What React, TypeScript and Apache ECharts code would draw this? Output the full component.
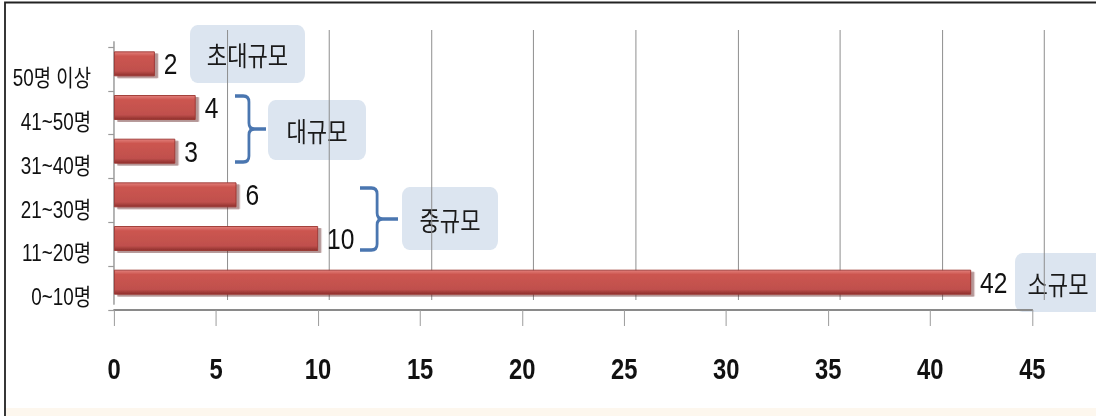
import React, { useEffect, useRef } from "react";
import * as echarts from "echarts";

// ---- data ----
const categories = ["0~10명", "11~20명", "21~30명", "31~40명", "41~50명", "50명 이상"];
const values = [42, 10, 6, 3, 4, 2];
const axisMin = 0;
const axisMax = 45;
const axisInterval = 5;
const groupLabels = ["초대규모", "대규모", "중규모", "소규모"];

// horizontal squeeze of the whole drawing (the reference text is condensed)
const S = 0.82;
const W = 1096;
const H = 416;
const sx = (v: number) => v / S;

const LAT = "'Liberation Sans', 'Noto Sans CJK KR', sans-serif";
const KR = "'Noto Sans CJK KR', sans-serif";

echarts.graphic.registerShape(
  "brace",
  echarts.graphic.extendShape({
    shape: { x: 0, y: 0, w: 30, h: 66 },
    buildPath(ctx: any, s: any) {
      const x0 = s.x, y0 = s.y, w = s.w, h = s.h;
      const vx = x0 + w * 0.45;
      const ym = y0 + h / 2;
      const rx = 7, ry = 6;
      ctx.moveTo(x0, y0);
      ctx.lineTo(vx - rx, y0);
      ctx.quadraticCurveTo(vx, y0, vx, y0 + ry);
      ctx.lineTo(vx, ym - ry);
      ctx.quadraticCurveTo(vx, ym, vx + rx, ym);
      ctx.lineTo(x0 + w, ym);
      ctx.moveTo(vx + rx, ym);
      ctx.quadraticCurveTo(vx, ym, vx, ym + ry);
      ctx.lineTo(vx, y0 + h - ry);
      ctx.quadraticCurveTo(vx, y0 + h, vx - rx, y0 + h);
      ctx.lineTo(x0, y0 + h);
    },
  })
);

function box(x: number, y: number, w: number, h: number, text: string, tx?: number, r: any = 9) {
  return {
    type: "group",
    children: [
      { type: "rect", shape: { x: sx(x), y, width: sx(w), height: h, r }, style: { fill: "#dce5f0" } },
      {
        type: "text",
        x: sx(tx ?? x + w / 2),
        y: y + h / 2,
        style: { text, fontFamily: KR, fontSize: 27, fill: "#1a1a1a", align: "center", verticalAlign: "middle" },
      },
    ],
  };
}

export default function App() {
  const ref = useRef<HTMLDivElement>(null);
  useEffect(() => {
    if (!ref.current) return;
    const chart = echarts.init(ref.current, null, { renderer: "svg" });
    const gridBase = { containLabel: false, outerBoundsMode: "none" } as any;
    const option: any = {
      animation: false,
      backgroundColor: "#ffffff",
      grid: [
        { ...gridBase, left: sx(227), right: sx(52), top: 30, bottom: 116 }, // back wall
        { ...gridBase, left: sx(114), right: sx(64), top: 47, bottom: 106 }, // front floor axis
        { ...gridBase, left: sx(114), right: sx(64), top: 56, bottom: 97 }, // category labels
        { ...gridBase, left: sx(114), right: sx(64), top: 42, bottom: 112 }, // bars
      ],
      xAxis: [
        {
          gridIndex: 0, type: "value", min: axisMin + axisInterval, max: axisMax, interval: axisInterval,
          axisLine: { show: false }, axisTick: { show: false }, axisLabel: { show: false },
          splitLine: { show: true, lineStyle: { color: "#8c8c8c", width: 1.2 } },
        },
        {
          gridIndex: 1, type: "value", min: axisMin, max: axisMax, interval: axisInterval,
          axisLine: { show: true, lineStyle: { color: "#8a8a8a", width: 2 } },
          axisTick: { show: true, length: 16, lineStyle: { color: "#9a9a9a", width: 1.2 } },
          axisLabel: { show: true, margin: 45, fontFamily: LAT, fontSize: 29, fontWeight: "bold", color: "#111" },
          splitLine: { show: false },
        },
        { gridIndex: 2, type: "value", min: axisMin, max: axisMax, show: false },
        { gridIndex: 3, type: "value", min: axisMin, max: axisMax, show: false, splitLine: { show: false } },
      ],
      yAxis: [
        { gridIndex: 0, type: "category", data: categories, show: false },
        {
          gridIndex: 1, type: "category", data: categories,
          axisLine: { show: false },
          axisTick: { show: true, length: 7, lineStyle: { color: "#9a9a9a", width: 1.2 } },
          axisLabel: { show: false },
        },
        {
          gridIndex: 2, type: "category", data: categories,
          axisLine: { show: false }, axisTick: { show: false },
          axisLabel: { show: true, margin: sx(23), fontFamily: LAT, fontSize: 23, color: "#111" },
        },
        {
          gridIndex: 3, type: "category", data: categories,
          axisLine: { show: true, lineStyle: { color: "#9a9a9a", width: 1.8 } },
          axisTick: { show: false }, axisLabel: { show: false },
        },
      ],
      series: [
        {
          type: "bar",
          xAxisIndex: 3,
          yAxisIndex: 3,
          data: values,
          barWidth: 25,
          itemStyle: {
            color: new echarts.graphic.LinearGradient(0, 0, 0, 1, [
              { offset: 0, color: "#e2807b" },
              { offset: 0.18, color: "#cc5550" },
              { offset: 0.8, color: "#c0504d" },
              { offset: 1, color: "#8e302d" },
            ]),
            borderColor: "#9b3531",
            borderWidth: 1,
            shadowColor: "rgba(90,20,20,0.45)",
            shadowOffsetX: 4,
            shadowOffsetY: 2,
            shadowBlur: 1,
          },
          label: {
            show: true,
            position: "right",
            distance: sx(9),
            fontFamily: LAT,
            fontSize: 30,
            color: "#111",
          },
        },
      ],
      graphic: [
        { type: "rect", shape: { x: sx(6), y: 408, width: sx(1090), height: 8 }, style: { fill: "#fdf7ee" }, silent: true },
        { type: "rect", shape: { x: sx(5), y: 2.5, width: sx(1100), height: 430 }, style: { fill: "none", stroke: "#222", lineWidth: 2.2 }, silent: true },
        box(190, 25, 115, 58, groupLabels[0]),
        box(268, 100, 98, 60, groupLabels[1]),
        box(402, 187, 96, 63, groupLabels[2]),
        box(1015, 253, 110, 59, groupLabels[3], 1058, [9, 0, 0, 9]),
        { type: "brace", shape: { x: sx(235), y: 96, w: sx(31), h: 66 }, style: { fill: "none", stroke: "#4a76b0", lineWidth: 3.4 } },
        { type: "brace", shape: { x: sx(360), y: 188, w: sx(38), h: 62 }, style: { fill: "none", stroke: "#4a76b0", lineWidth: 3.4 } },
      ],
    };
    chart.setOption(option);
    return () => chart.dispose();
  }, []);
  return (
    <div style={{ position: "fixed", left: 0, top: 0, width: W, height: H, overflow: "hidden" }}>
      <div
        ref={ref}
        style={{ width: W / S, height: H, transform: `scaleX(${S})`, transformOrigin: "0 0" }}
      />
    </div>
  );
}
